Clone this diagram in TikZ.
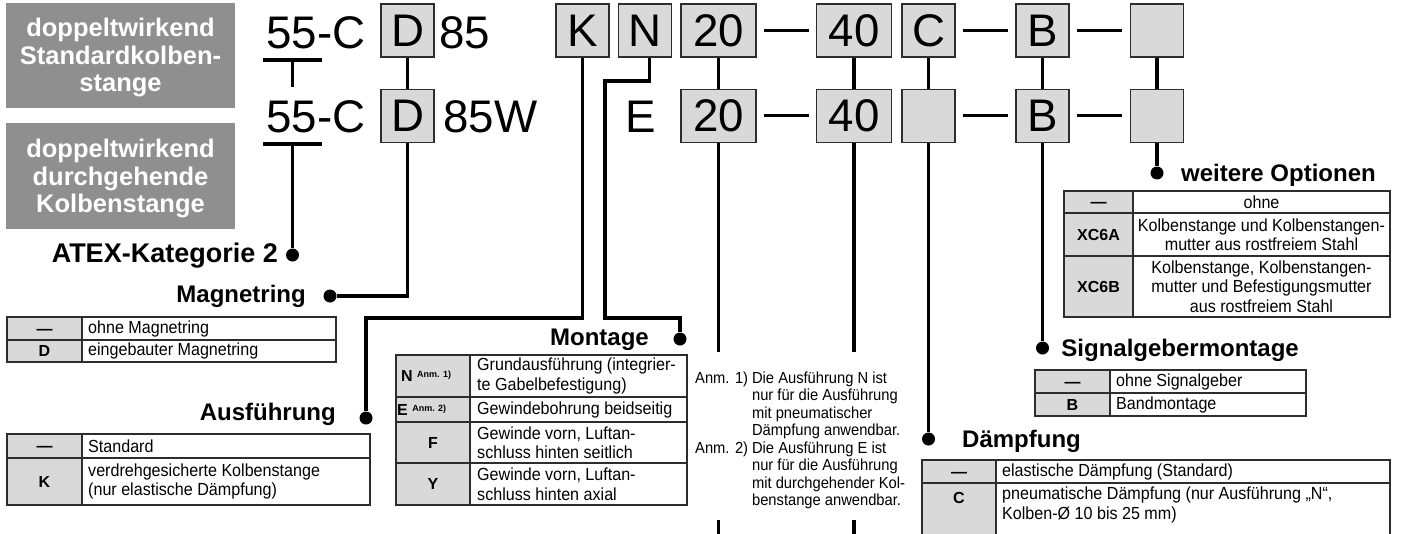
\documentclass[tikz,border=0pt]{standalone}
\usepackage{fontspec}
\setmainfont{Liberation Sans}
\newfontfamily\narrowfont[FakeStretch=0.92]{Liberation Sans}
\usepackage{tikz}
\usetikzlibrary{positioning}
\usepackage{xcolor}
\definecolor{codeGray}{RGB}{217,217,217}
\definecolor{labelGray}{RGB}{143,143,143}
\definecolor{frameGray}{RGB}{45,45,45}

\begin{document}
\begin{tikzpicture}[x=1pt,y=-1pt,
        codebox/.style={draw=frameGray,fill=codeGray,line width=1.2pt,minimum width=53pt,minimum height=53pt,inner sep=0pt,font=\fontsize{45.7}{50}\selectfont},
        widebox/.style={codebox,minimum width=75pt},
        bigtext/.style={inner sep=0pt,font=\fontsize{45.7}{50}\selectfont},
        conn/.style={line width=3.3pt},
        dot/.style={circle,fill,inner sep=0pt,minimum size=13pt},
        heading/.style={inner sep=0pt,font=\fontsize{24}{28}\selectfont\bfseries},
        tab/.style={draw=frameGray,line width=1.2pt},
        code/.style={inner sep=0pt,text height=11.5pt,text depth=0pt,font=\fontsize{16}{19}\selectfont\bfseries},
        desc/.style={inner sep=0pt,anchor=west,align=left,font=\narrowfont\fontsize{17.5}{19.5}\selectfont},
        grouplabel/.style={inner sep=0pt,align=center,text=white,font=\fontsize{25.5}{27.5}\selectfont\bfseries}]
        \useasboundingbox (0,0) rectangle (1403,533);
        % group labels
        \fill[labelGray] (6,3) rectangle (235,108);
        \node[grouplabel] (stdLbl) at (120.5,57.5) {doppeltwirkend\\Standardkolben-\\stange};
        \fill[labelGray] (6,123) rectangle (235,229);
        \node[grouplabel] (thruLbl) at (120.5,178.5) {doppeltwirkend\\durchgehende\\Kolbenstange};

        % order code, row 1
        \node[bigtext,anchor=base west] (ser1) at (266,48) {55-C};
        \node[codebox] (magD1) at (407.5,30.5) {D};
        \node[bigtext,anchor=base west] (size1) at (439,48) {85};
        \node[codebox] (verK) at (582.5,30.5) {K};
        \node[codebox] (monN) at (645,30.5) {N};
        \node[widebox] (bore1) at (718.5,30.5) {20};
        \node[widebox] (stroke1) at (854,30.5) {40};
        \node[codebox] (damp1) at (928.5,30.5) {C};
        \node[codebox] (sig1) at (1042.5,30.5) {B};
        \node[codebox] (opt1) at (1157,30.5) {};
        % order code, row 2
        \node[bigtext,anchor=base west] (ser2) at (266,132) {55-C};
        \node[codebox,below=31pt of magD1] (magD2) {D};
        \node[bigtext,anchor=base west] (size2) at (443,132) {85W};
        \node[bigtext,anchor=base west] (monE) at (625,132) {E};
        \node[widebox,below=31pt of bore1] (bore2) {20};
        \node[widebox,below=31pt of stroke1] (stroke2) {40};
        \node[codebox,below=31pt of damp1] (damp2) {};
        \node[codebox,below=31pt of sig1] (sig2) {B};
        \node[codebox,below=31pt of opt1] (opt2) {};
        % dashes
        \draw[line width=3.2pt] ([xshift=7pt]bore1.east) -- ([xshift=-7pt]stroke1.west);
        \draw[line width=3.2pt] ([xshift=7.5pt]damp1.east) -- ([xshift=-7.5pt]sig1.west);
        \draw[line width=3.2pt] ([xshift=7.5pt]sig1.east) -- ([xshift=-7.5pt]opt1.west);
        \draw[line width=3.2pt] ([xshift=7pt]bore2.east) -- ([xshift=-7pt]stroke2.west);
        \draw[line width=3.2pt] ([xshift=7.5pt]damp2.east) -- ([xshift=-7.5pt]sig2.west);
        \draw[line width=3.2pt] ([xshift=7.5pt]sig2.east) -- ([xshift=-7.5pt]opt2.west);

        % dots
        \node[dot] (atexDot) at (292.5,255) {};
        \node[dot] (magDot) at (330,296) {};
        \node[dot] (ausfDot) at (366,418) {};
        \node[dot] (montDot) at (680,339) {};
        \node[dot] (optDot) at (1157,173) {};
        \node[dot] (sigDot) at (1042.5,348) {};
        \node[dot] (dampDot) at (928.5,439) {};
        \coordinate (ul1) at (292.5,60);
        \coordinate (ul1End) at (292.5,87);
        \coordinate (ul2) at (292.5,144);
        \coordinate (ausfBend) at (366,318);
        \coordinate (montBendA) at (605,81);
        \coordinate (montBendB) at (680,318);
        \coordinate (boreCut) at (718.5,352);
        \coordinate (boreOn) at (718.5,520);
        \coordinate (boreEnd) at (718.5,540);
        \coordinate (strokeCut) at (854,352);
        \coordinate (strokeOn) at (854,520);
        \coordinate (strokeEnd) at (854,540);

        % connectors
        \draw[conn] (263,60) -- (322,60) (ul1) -- (ul1End);
        \draw[conn] (263,144) -- (322,144) (ul2) -- (atexDot);
        \draw[conn] (magD1) -- (magD2);
        \draw[conn] (magD2) |- (magDot);
        \draw[conn] (verK) |- (ausfBend) -- (ausfDot);
        \draw[conn] ([xshift=4.5pt]monN.south) |- (montBendA) |- (montBendB) -- (montDot);
        \draw[conn] (bore1) -- (bore2);
        \draw[conn] (bore2) -- (boreCut) (boreOn) -- (boreEnd);
        \draw[conn] (stroke1) -- (stroke2);
        \draw[conn] (stroke2) -- (strokeCut) (strokeOn) -- (strokeEnd);
        \draw[conn] (damp1) -- (damp2);
        \draw[conn] (damp2) -- (dampDot);
        \draw[conn] (sig1) -- (sig2);
        \draw[conn] (sig2) -- (sigDot);
        \draw[conn] (opt1) -- (opt2);
        \draw[conn] (opt2) -- (optDot);

        % headings
        \node[heading,font=\fontsize{27}{30}\selectfont\bfseries,anchor=base east] (atexLbl) at (278,262) {ATEX-Kategorie 2};
        \node[heading,anchor=base east] (magLbl) at (306,302) {Magnetring};
        \node[heading,anchor=base east] (ausfLbl) at (336,420) {Ausführung};
        \node[heading,anchor=base east] (montLbl) at (649,345) {Montage};
        \node[heading,anchor=base east] (optLbl) at (1376,181) {weitere Optionen};
        \node[heading,anchor=base east] (sigLbl) at (1299,356) {Signalgebermontage};
        \node[heading,anchor=base west] (dampLbl) at (962,447) {Dämpfung};

        % table Magnetring
        \fill[codeGray] (7,317) rectangle (82,362);
        \draw[tab] (7,317) rectangle (336,362) (82,317) -- (82,362) (7,340) -- (336,340);
        \node[code] (magC1) at (44.5,328.5) {—};
        \node[desc] (magT1) at (88,328.5) {ohne Magnetring};
        \node[code] (magC2) at (44.5,351) {D};
        \node[desc] (magT2) at (88,351) {eingebauter Magnetring};

        % table Ausfuehrung
        \fill[codeGray] (7,434) rectangle (82,505);
        \draw[tab] (7,434) rectangle (370,505) (82,434) -- (82,505) (7,458) -- (370,458);
        \node[code] (ausfC1) at (44.5,446) {—};
        \node[desc] (ausfT1) at (88,446) {Standard};
        \node[code] (ausfC2) at (44.5,481.5) {K};
        \node[desc] (ausfT2) at (88,481.5) {verdrehgesicherte Kolbenstange\\(nur elastische Dämpfung)};

        % table Montage
        \fill[codeGray] (396,355) rectangle (470,505);
        \draw[tab] (396,355) rectangle (687,505) (470,355) -- (470,505)
            (396,397) -- (687,397) (396,422) -- (687,422) (396,463) -- (687,463);
        \node[code,anchor=west] (montC1) at (401,376) {N \raisebox{4pt}{\fontsize{9}{10}\selectfont Anm. 1)}};
        \node[desc] (montT1) at (477,376) {Grundausführung (integrier-\\te Gabelbefestigung)};
        \node[code,anchor=west] (montC2) at (397,409.5) {E \raisebox{4pt}{\fontsize{9}{10}\selectfont Anm. 2)}};
        \node[desc] (montT2) at (477,409.5) {Gewindebohrung beidseitig};
        \node[code] (montC3) at (433,442.5) {F};
        \node[desc] (montT3) at (477,442.5) {Gewinde vorn, Luftan-\\schluss hinten seitlich};
        \node[code] (montC4) at (433,484) {Y};
        \node[desc] (montT4) at (477,484) {Gewinde vorn, Luftan-\\schluss hinten axial};

        % notes
        \node[anchor=base west,inner sep=0pt,font=\narrowfont\fontsize{16}{17.5}\selectfont] (notes) at (695,383) {%
            \begin{tabular}[t]{@{}l@{\hspace{4pt}}l@{}}
                Anm. 1) & Die Ausführung N ist\\
                        & nur für die Ausführung\\
                        & mit pneumatischer\\
                        & Dämpfung anwendbar.\\
                Anm. 2) & Die Ausführung E ist\\
                        & nur für die Ausführung\\
                        & mit durchgehender Kol-\\
                        & benstange anwendbar.
            \end{tabular}};

        % table weitere Optionen
        \fill[codeGray] (1064,191) rectangle (1133,317);
        \draw[tab] (1064,191) rectangle (1390,317) (1133,191) -- (1133,317)
            (1064,213) -- (1390,213) (1064,256) -- (1390,256);
        \node[code] (optC1) at (1098.5,202) {—};
        \node[desc,anchor=center,align=center] (optT1) at (1261.5,202) {ohne};
        \node[code] (optC2) at (1098.5,234.5) {XC6A};
        \node[desc,anchor=center,align=center] (optT2) at (1261.5,234.5) {Kolbenstange und Kolbenstangen-\\mutter aus rostfreiem Stahl};
        \node[code] (optC3) at (1098.5,286.5) {XC6B};
        \node[desc,anchor=center,align=center] (optT3) at (1261.5,286.5) {Kolbenstange, Kolbenstangen-\\mutter und Befestigungsmutter\\aus rostfreiem Stahl};

        % table Signalgebermontage
        \fill[codeGray] (1035,370) rectangle (1110,416);
        \draw[tab] (1035,370) rectangle (1306,416) (1110,370) -- (1110,416) (1035,393) -- (1306,393);
        \node[code] (sigC1) at (1072.5,381.5) {—};
        \node[desc] (sigT1) at (1116,381.5) {ohne Signalgeber};
        \node[code] (sigC2) at (1072.5,404.5) {B};
        \node[desc] (sigT2) at (1116,404.5) {Bandmontage};

        % table Daempfung
        \fill[codeGray] (922,460) rectangle (996,540);
        \draw[tab] (922,540) -- (922,460) -- (1390,460) -- (1390,540) (996,460) -- (996,540) (922,483) -- (1390,483);
        \node[code] (dampC1) at (959,471.5) {—};
        \node[desc] (dampT1) at (1002,471.5) {elastische Dämpfung (Standard)};
        \node[code] (dampC2) at (959,498) {C};
        \node[desc] (dampT2) at (1002,505) {pneumatische Dämpfung (nur Ausführung „N“,\\Kolben-Ø 10 bis 25 mm)};
    \end{tikzpicture}
\end{document}
